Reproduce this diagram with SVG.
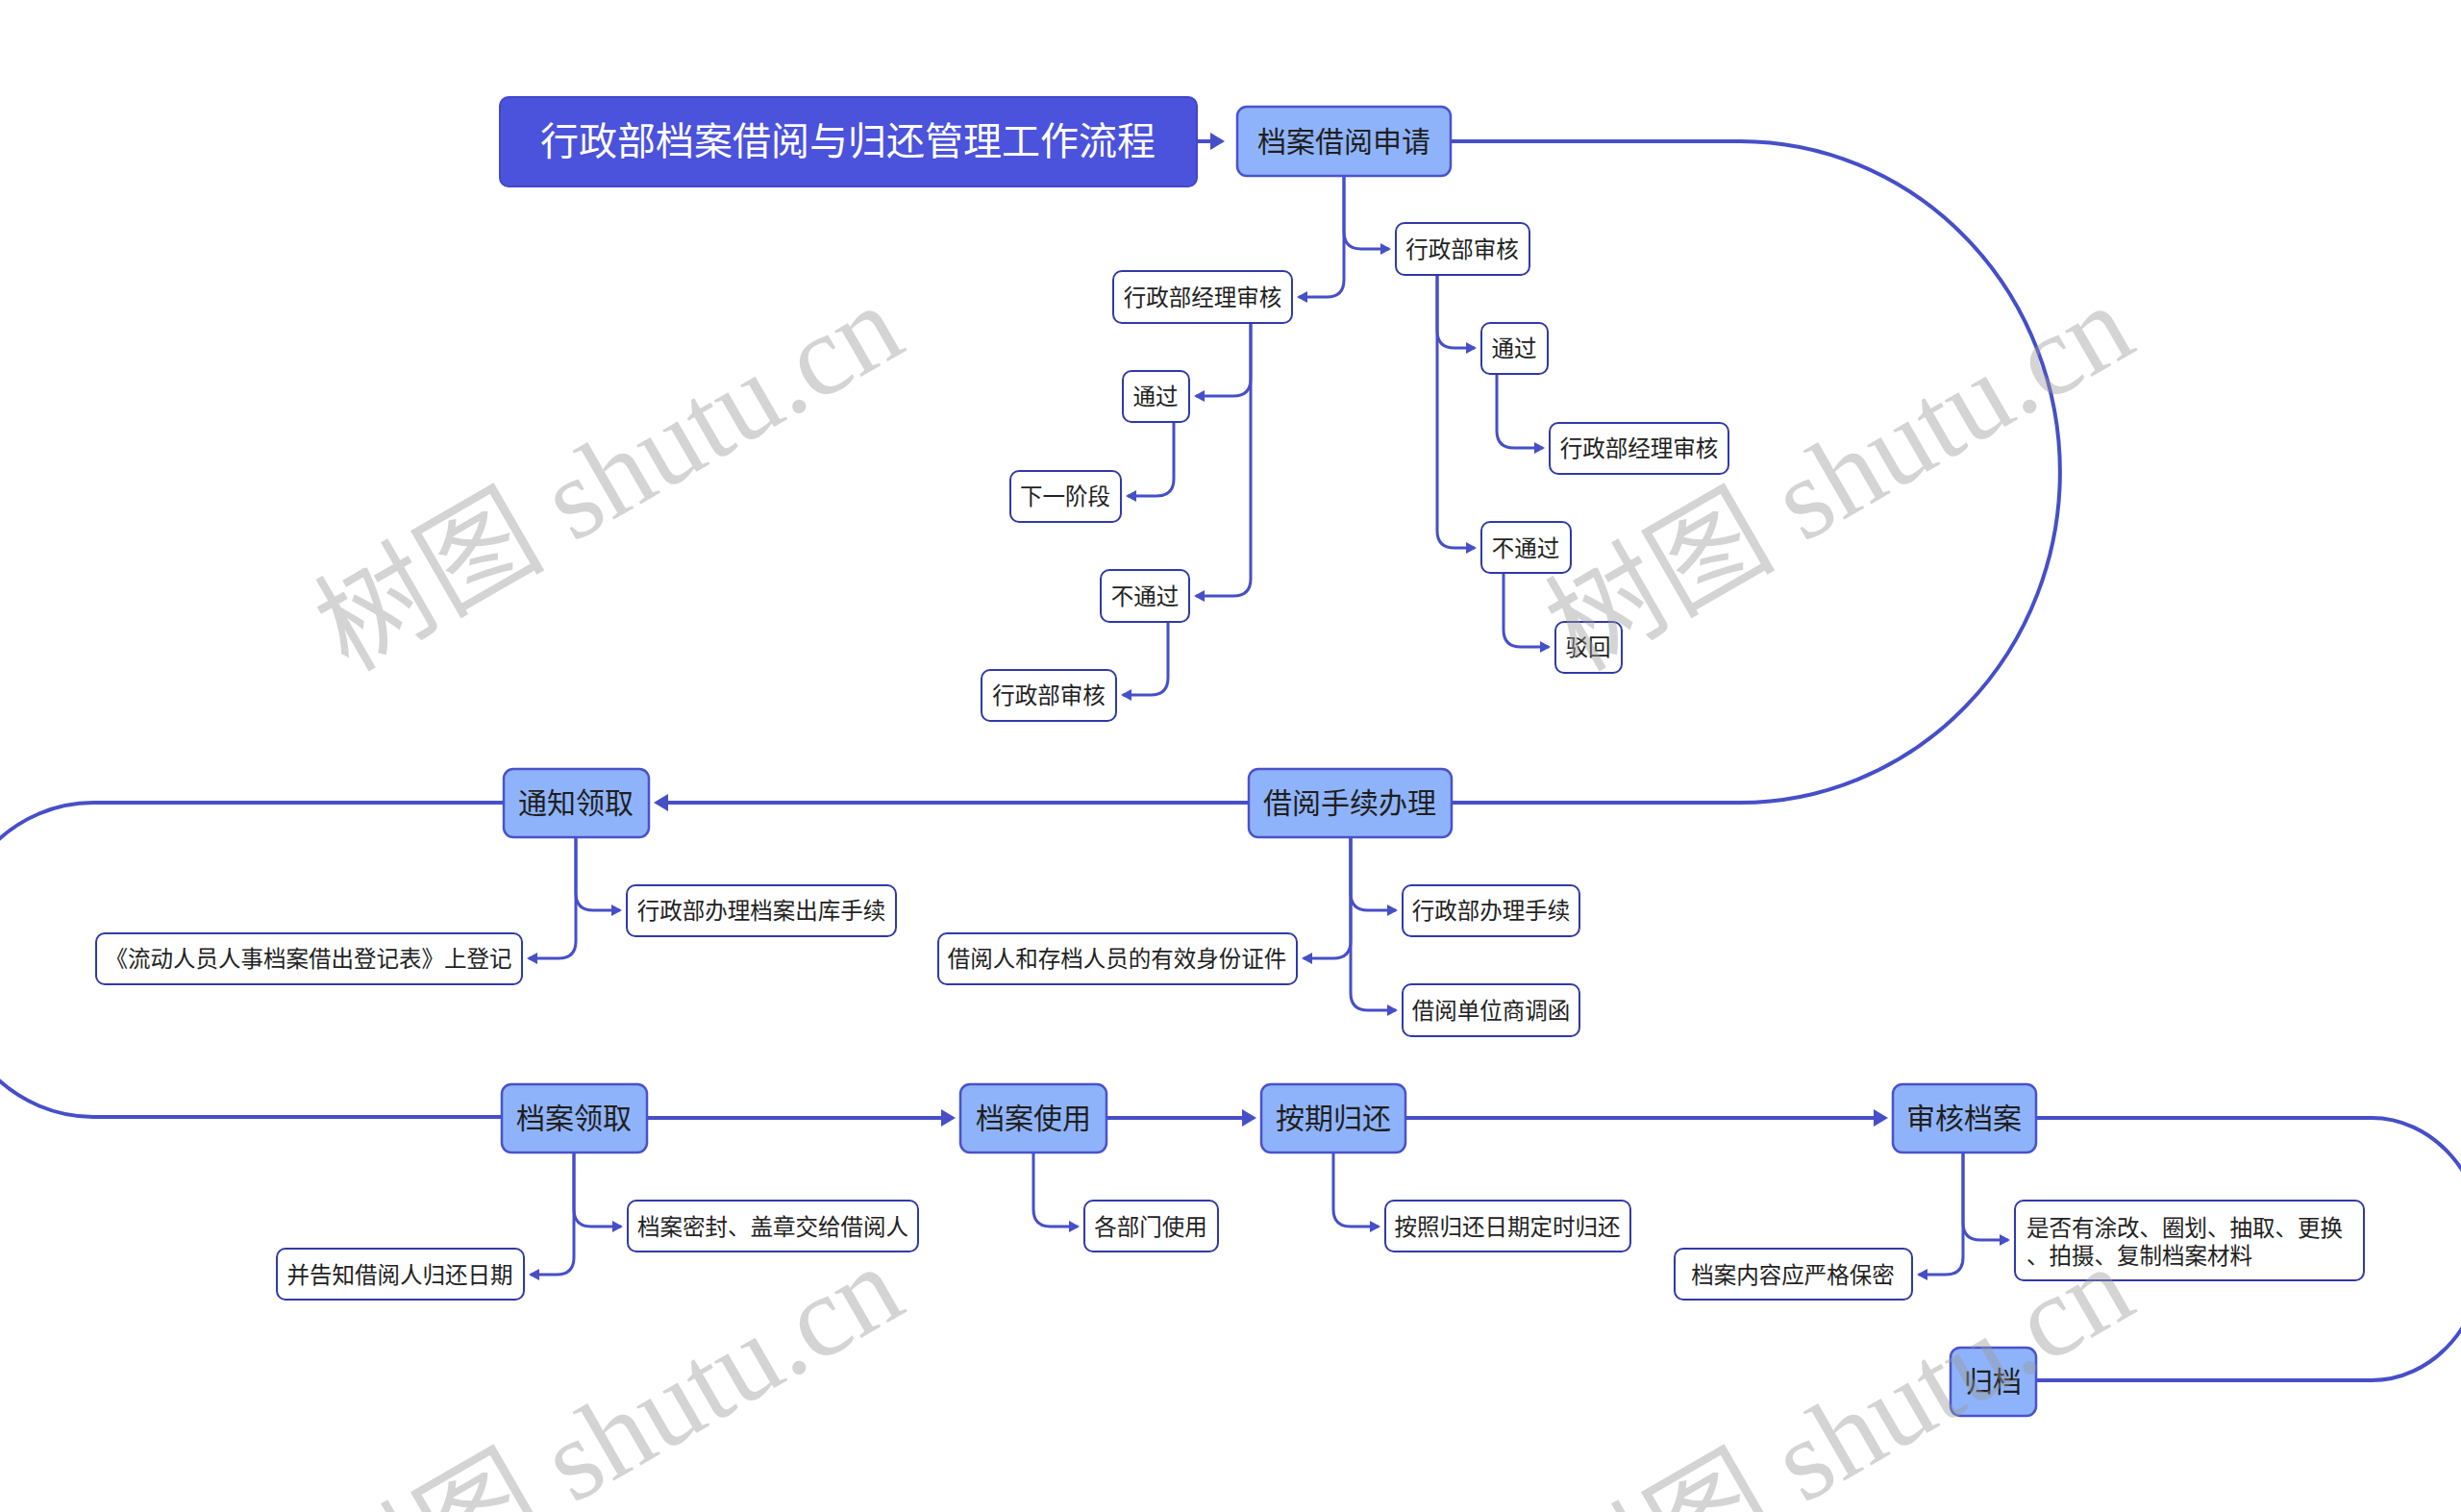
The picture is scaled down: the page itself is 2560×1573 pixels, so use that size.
<svg xmlns="http://www.w3.org/2000/svg" width="2560" height="1573" viewBox="0 0 2560 1573">
<defs>
<style>
.main rect{fill:#8fb3fa;stroke:#4a52cc;stroke-width:2.5}
.main text{font-family:"Noto Sans CJK SC","Noto Sans",sans-serif;font-size:30px;fill:#1f1f1f;text-anchor:middle;dominant-baseline:central}
.sub rect{fill:#ffffff;stroke:#3139a8;stroke-width:2}
.sub text{font-family:"Noto Sans CJK SC","Noto Sans",sans-serif;font-size:23.5px;fill:#222;text-anchor:middle;dominant-baseline:central}
.title rect{fill:#4b52db;stroke:#4048c8;stroke-width:2}
.title text{font-family:"Noto Sans CJK SC","Noto Sans",sans-serif;font-size:40px;fill:#ffffff;text-anchor:middle;dominant-baseline:central}
.big{fill:none;stroke:#464fc8;stroke-width:4}
.small{fill:none;stroke:#464fc8;stroke-width:3}
.wm{font-family:"Liberation Serif","Noto Sans CJK SC",serif;font-size:120px;fill:#9a9a9a;opacity:0.42}
</style>
<marker id="ab" markerUnits="userSpaceOnUse" markerWidth="18" markerHeight="20" refX="12" refY="9" orient="auto">
<path d="M0,0 L15,9 L0,18 z" fill="#464fc8"/>
</marker>
<marker id="as" markerUnits="userSpaceOnUse" markerWidth="14" markerHeight="14" refX="9" refY="6" orient="auto">
<path d="M0,0 L11,6 L0,12 z" fill="#464fc8"/>
</marker>
</defs>
<rect width="2560" height="1573" fill="#ffffff"/>

<g id="connectors">
<path class="big" d="M1245 147 H1271" marker-end="url(#ab)"/>
<path class="big" d="M1509 147 H1810 A333 344 0 0 1 1810 835 H1510"/>
<path class="big" d="M1299 835 H683" marker-end="url(#ab)"/>
<path class="big" d="M524 835 H97 A153 163.5 0 0 0 97 1162 H522"/>
<path class="big" d="M673 1163 H991" marker-end="url(#ab)"/>
<path class="big" d="M1151 1163 H1304" marker-end="url(#ab)"/>
<path class="big" d="M1462 1163 H1961" marker-end="url(#ab)"/>
<path class="big" d="M2118 1163 H2467 A118 136.5 0 0 1 2467 1436 H2118"/>

<path class="small" d="M1398 183 V241 Q1398 259 1416 259 H1445" marker-end="url(#as)"/>
<path class="small" d="M1398 183 V291 Q1398 309 1380 309 H1351" marker-end="url(#as)"/>
<path class="small" d="M1301 336 V394 Q1301 412 1283 412 H1244" marker-end="url(#as)"/>
<path class="small" d="M1301 336 V602 Q1301 620 1283 620 H1244" marker-end="url(#as)"/>
<path class="small" d="M1221 439 V498 Q1221 516 1203 516 H1173" marker-end="url(#as)"/>
<path class="small" d="M1215 647 V705 Q1215 723 1197 723 H1168" marker-end="url(#as)"/>
<path class="small" d="M1495 287 V344 Q1495 362 1513 362 H1534" marker-end="url(#as)"/>
<path class="small" d="M1495 287 V552 Q1495 570 1513 570 H1534" marker-end="url(#as)"/>
<path class="small" d="M1557 389 V448 Q1557 466 1575 466 H1605" marker-end="url(#as)"/>
<path class="small" d="M1564 596 V655 Q1564 673 1582 673 H1611" marker-end="url(#as)"/>

<path class="small" d="M599 871 V929 Q599 947 617 947 H645" marker-end="url(#as)"/>
<path class="small" d="M599 871 V979 Q599 997 581 997 H550" marker-end="url(#as)"/>
<path class="small" d="M1405 871 V929 Q1405 947 1423 947 H1452" marker-end="url(#as)"/>
<path class="small" d="M1405 871 V979 Q1405 997 1387 997 H1356" marker-end="url(#as)"/>
<path class="small" d="M1405 871 V1033 Q1405 1051 1423 1051 H1452" marker-end="url(#as)"/>

<path class="small" d="M597 1199 V1258 Q597 1276 615 1276 H646" marker-end="url(#as)"/>
<path class="small" d="M597 1199 V1308 Q597 1326 579 1326 H552" marker-end="url(#as)"/>
<path class="small" d="M1075 1199 V1258 Q1075 1276 1093 1276 H1121" marker-end="url(#as)"/>
<path class="small" d="M1387 1199 V1258 Q1387 1276 1405 1276 H1434" marker-end="url(#as)"/>
<path class="small" d="M2042 1199 V1272 Q2042 1290 2060 1290 H2089" marker-end="url(#as)"/>
<path class="small" d="M2042 1199 V1308 Q2042 1326 2024 1326 H1996" marker-end="url(#as)"/>
</g>

<g id="n-title" class="title"><rect x="520" y="101" width="725" height="93" rx="9"/><text x="882" y="144">行政部档案借阅与归还管理工作流程</text></g>

<g id="n-apply" class="main"><rect x="1287" y="111" width="222" height="72" rx="10"/><text x="1398" y="145">档案借阅申请</text></g>
<g id="n-proc" class="main"><rect x="1299" y="800" width="211" height="71" rx="10"/><text x="1404" y="833">借阅手续办理</text></g>
<g id="n-notify" class="main"><rect x="524" y="800" width="151" height="71" rx="10"/><text x="599" y="833">通知领取</text></g>
<g id="n-receive" class="main"><rect x="522" y="1128" width="151" height="71" rx="10"/><text x="597" y="1161">档案领取</text></g>
<g id="n-use" class="main"><rect x="999" y="1128" width="152" height="71" rx="10"/><text x="1075" y="1161">档案使用</text></g>
<g id="n-return" class="main"><rect x="1312" y="1128" width="150" height="71" rx="10"/><text x="1387" y="1161">按期归还</text></g>
<g id="n-check" class="main"><rect x="1969" y="1128" width="149" height="71" rx="10"/><text x="2043" y="1161">审核档案</text></g>
<g id="n-archive" class="main"><rect x="2029" y="1402" width="89" height="71" rx="10"/><text x="2073" y="1435">归档</text></g>

<g id="n-r1" class="sub"><rect x="1452" y="232" width="139" height="54" rx="9"/><text x="1521" y="258">行政部审核</text></g>
<g id="n-l1" class="sub"><rect x="1158" y="282" width="186" height="54" rx="9"/><text x="1251" y="308">行政部经理审核</text></g>
<g id="n-l2" class="sub"><rect x="1168" y="386" width="69" height="53" rx="9"/><text x="1202" y="411">通过</text></g>
<g id="n-l3" class="sub"><rect x="1051" y="490" width="115" height="53" rx="9"/><text x="1108" y="515">下一阶段</text></g>
<g id="n-l4" class="sub"><rect x="1145" y="593" width="92" height="54" rx="9"/><text x="1191" y="619">不通过</text></g>
<g id="n-l5" class="sub"><rect x="1021" y="697" width="140" height="53" rx="9"/><text x="1091" y="722">行政部审核</text></g>
<g id="n-r2" class="sub"><rect x="1541" y="336" width="69" height="53" rx="9"/><text x="1575" y="361">通过</text></g>
<g id="n-r3" class="sub"><rect x="1612" y="440" width="186" height="53" rx="9"/><text x="1705" y="465">行政部经理审核</text></g>
<g id="n-r4" class="sub"><rect x="1541" y="543" width="93" height="53" rx="9"/><text x="1587" y="569">不通过</text></g>
<g id="n-r5" class="sub"><rect x="1618" y="647" width="69" height="53" rx="9"/><text x="1652" y="672">驳回</text></g>

<g id="n-c1" class="sub"><rect x="652" y="921" width="280" height="53" rx="9"/><text x="792" y="946">行政部办理档案出库手续</text></g>
<g id="n-c2" class="sub"><rect x="100" y="971" width="443" height="53" rx="9"/><text x="321" y="996">《流动人员人事档案借出登记表》上登记</text></g>
<g id="n-c3" class="sub"><rect x="1459" y="921" width="184" height="53" rx="9"/><text x="1551" y="946">行政部办理手续</text></g>
<g id="n-c4" class="sub"><rect x="976" y="971" width="373" height="53" rx="9"/><text x="1162" y="996">借阅人和存档人员的有效身份证件</text></g>
<g id="n-c5" class="sub"><rect x="1459" y="1024" width="184" height="54" rx="9"/><text x="1551" y="1050">借阅单位商调函</text></g>

<g id="n-d1" class="sub"><rect x="653" y="1249" width="302" height="53" rx="9"/><text x="804" y="1275">档案密封、盖章交给借阅人</text></g>
<g id="n-d2" class="sub"><rect x="288" y="1299" width="257" height="53" rx="9"/><text x="416" y="1325">并告知借阅人归还日期</text></g>
<g id="n-d3" class="sub"><rect x="1128" y="1249" width="139" height="53" rx="9"/><text x="1197" y="1275">各部门使用</text></g>
<g id="n-d4" class="sub"><rect x="1441" y="1249" width="255" height="53" rx="9"/><text x="1568" y="1275">按照归还日期定时归还</text></g>
<g id="n-d5" class="sub"><rect x="2096" y="1249" width="363" height="83" rx="9"/><text x="2108" y="1276" style="text-anchor:start">是否有涂改、圈划、抽取、更换</text><text x="2108" y="1305" style="text-anchor:start">、拍摄、复制档案材料</text></g>
<g id="n-d6" class="sub"><rect x="1742" y="1299" width="247" height="53" rx="9"/><text x="1865" y="1325">档案内容应严格保密</text></g>

<g id="watermarks">
<text class="wm" transform="translate(362,700) rotate(-30)">树图 shutu.cn</text>
<text class="wm" transform="translate(1642,700) rotate(-30)">树图 shutu.cn</text>
<text class="wm" transform="translate(362,1700) rotate(-30)">树图 shutu.cn</text>
<text class="wm" transform="translate(1642,1700) rotate(-30)">树图 shutu.cn</text>
</g>
</svg>
